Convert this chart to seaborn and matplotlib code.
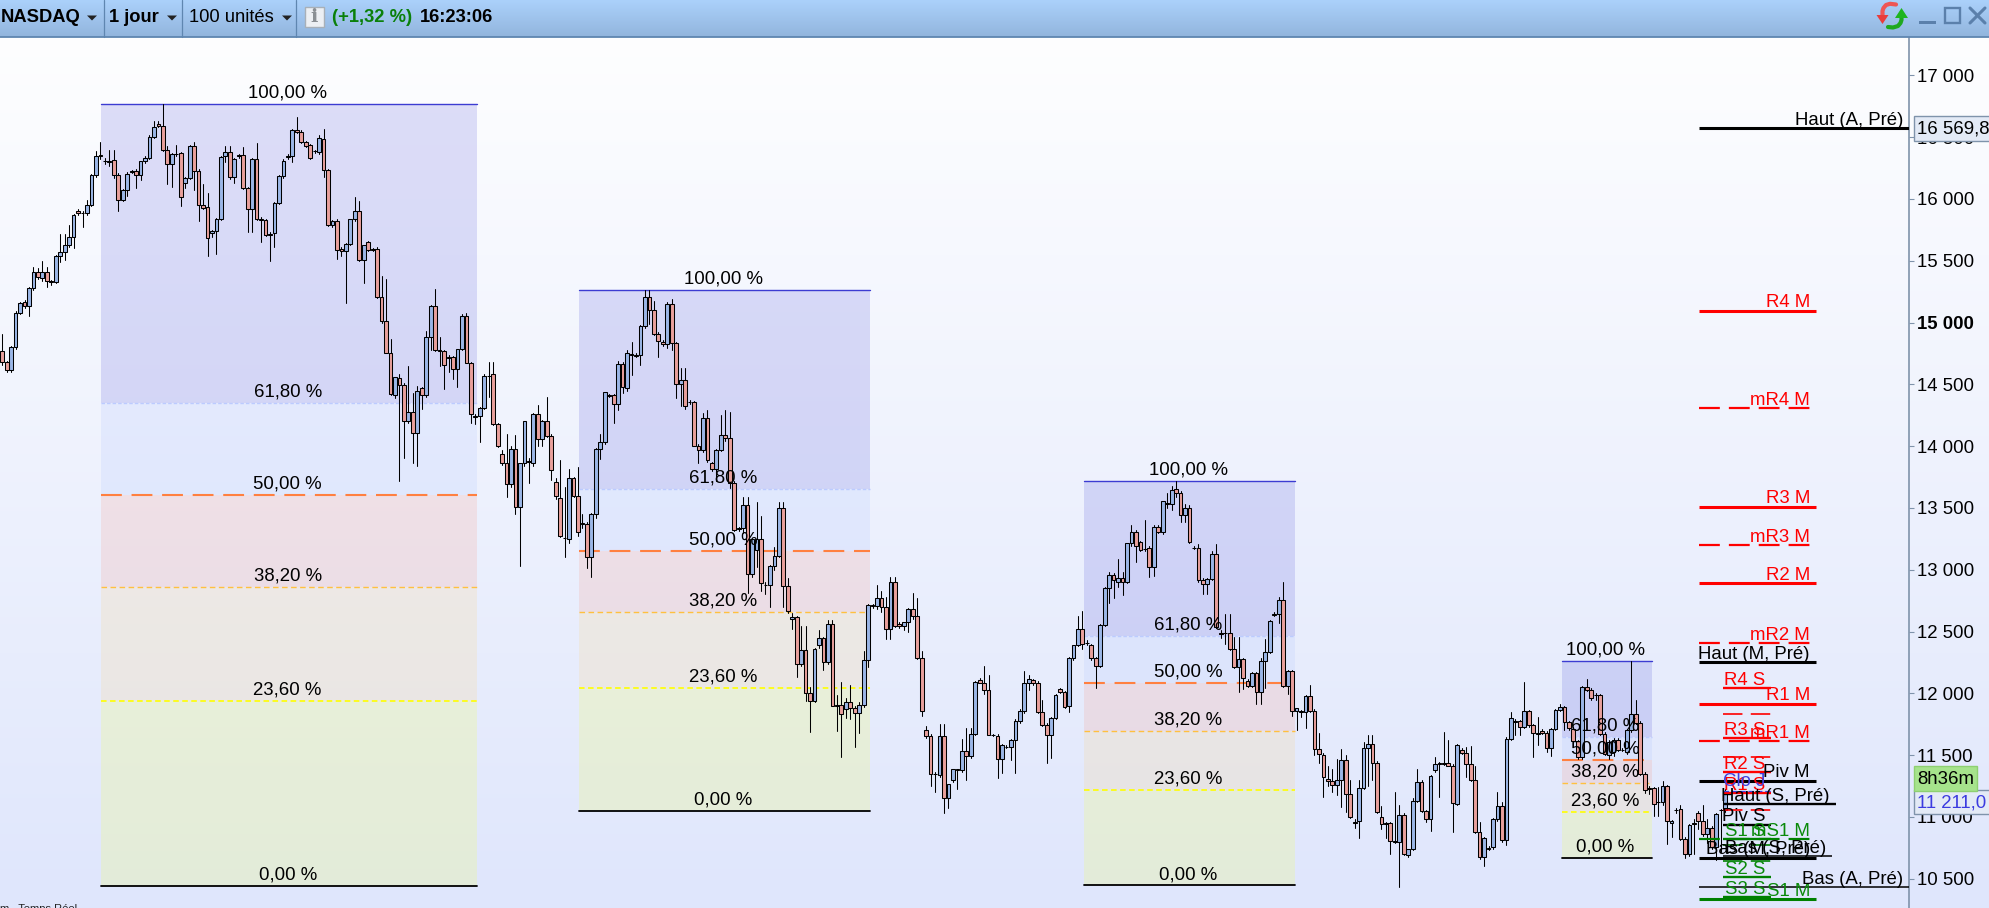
import numpy as np
import pandas as pd
import matplotlib
matplotlib.use("Agg")
import matplotlib.pyplot as plt
from matplotlib.patches import Rectangle, Polygon
import seaborn as sns

# ---------- chart values ----------
opens = [
14770,14680,14620,14800,15080,15165,15130,15280,15410,15360,
15410,15335,15330,15540,15570,15630,15690,15905,15890,15890,
15950,16190,16355,16310,16300,16315,16190,15990,16070,16225,
16225,16195,16305,16330,16505,16605,16590,16400,16285,16365,
16370,16130,16170,16430,16230,15950,15935,15725,15740,15840,
16345,16380,16175,16345,16355,16085,15920,16325,15840,15830,
15715,15725,15970,16185,16340,16345,16555,16545,16460,16435,
16390,16380,16485,16235,15790,15825,15595,15575,15635,15835,
15900,15510,15650,15595,15595,15205,15015,14755,14410,14555,
14495,14205,14280,14105,14470,14415,14880,15135,14780,14770,
14720,14720,14625,14785,15055,14675,14245,14245,14310,14570,
14580,14180,13940,13865,13690,13980,13510,13865,13875,13865,
14260,14060,14200,14085,13710,13580,13260,13250,13740,13595,
13375,13370,13105,13455,13975,14030,14410,14410,14340,14665,
14470,14745,14735,14735,14975,15205,15105,14910,14840,14830,
15150,14835,14505,14535,14360,14355,14005,13965,14230,13860,
13815,13970,14090,14070,13705,13335,13335,13525,12965,13160,
13245,12880,12875,13030,13110,13500,12870,12600,12615,12235,
12350,12000,11940,12395,12445,12250,12560,11905,11910,11870,
11930,11885,11845,11905,12270,12715,12705,12770,12695,12520,
12905,12565,12545,12575,12685,12630,12285,11705,11655,11350,
11340,11655,11150,11300,11380,11380,11530,11495,11670,12105,
12080,12030,11665,11655,11470,11570,11570,11620,11775,11860,
12080,12105,12080,11850,11745,11665,11800,12035,12010,11895,
12290,12390,12520,12410,12390,12285,12225,12555,12855,12955,
12905,12935,12900,13215,13305,13225,13170,13175,13020,13350,
13305,13540,13535,13650,13620,13445,13500,13180,13180,12920,
12885,12925,13130,12485,12490,12490,12360,12210,12275,12100,
12060,12165,12010,12265,12335,12640,12640,12755,12060,12180,
11860,11855,11850,11975,11860,11550,11505,11310,11290,11260,
11300,11460,11185,10960,10965,11235,11560,11590,11440,11000,
10950,10950,10805,10800,11015,10690,10740,11130,11285,11050,
10980,11380,11435,11435,11435,11415,11105,11545,11515,11430,
11300,10875,10675,10750,10755,10985,11090,10810,11635,11775,
11775,11730,11855,11745,11680,11695,11680,11560,11710,11865,
11890,11770,11715,11615,11485,12055,12030,11990,11985,11675,
11500,11525,11625,11545,11525,11705,11835,11760,11350,11235,
11235,11125,11120,11250,10955,11060,11065,10825,10700,10950,
11030,10970,10865,10910,10755,11055,11060]
closes = [
14680,14620,14800,15080,15160,15130,15280,15410,15370,15410,
15340,15325,15540,15570,15630,15690,15870,15890,15885,15950,
16190,16350,16345,16305,16310,16190,15990,16070,16200,16220,
16195,16305,16330,16505,16580,16590,16400,16285,16365,16360,
16015,16170,16430,16230,15950,15930,15685,15740,15840,16340,
16380,16175,16325,16355,16090,15920,16325,15840,15830,15710,
15705,15970,16185,16305,16345,16560,16540,16460,16430,16330,
16385,16490,16235,15790,15825,15585,15575,15635,15835,15900,
15510,15630,15590,15590,15210,15015,14755,14425,14560,14495,
14205,14280,14105,14450,14415,14880,15135,14780,14770,14660,
14710,14625,14785,15055,14675,14260,14240,14310,14565,14565,
14180,14005,13865,13690,13980,13510,13865,14200,13880,14260,
14060,14200,14085,13805,13595,13270,13255,13740,13595,13305,
13370,13105,13455,13975,14030,14435,14405,14340,14665,14480,
14750,14740,14730,14975,15205,15105,14910,14850,14830,15150,
14835,14505,14535,14325,14355,14005,13965,14230,13890,13815,
13970,14090,14070,13705,13320,13330,13525,12965,13245,13245,
12895,12875,13030,13110,13500,12870,12665,12615,12235,12350,
12000,11940,12360,12445,12250,12560,11900,11895,11835,11930,
11885,11845,11905,12270,12715,12710,12770,12695,12520,12905,
12545,12545,12575,12685,12630,12285,11860,11655,11345,11345,
11655,11150,11265,11385,11385,11530,11495,11670,12090,12080,
12030,11665,11660,11470,11580,11565,11620,11775,11860,12080,
12120,12080,11850,11745,11665,11800,11985,12010,11890,12285,
12390,12520,12400,12405,12285,12225,12555,12850,12955,12915,
12930,12900,13215,13305,13195,13160,13165,13020,13350,13305,
13555,13535,13645,13620,13445,13500,13225,13175,12920,12885,
12925,13130,12535,12480,12485,12360,12210,12275,12125,12060,
12165,12010,12265,12335,12585,12635,12755,12060,12180,11860,
11880,11850,11975,11860,11550,11510,11325,11290,11260,11300,
11460,11185,11000,10955,11235,11560,11590,11440,11040,10945,
10945,10805,10800,11015,10700,10740,11130,11285,11050,10980,
11335,11430,11430,11430,11415,11115,11585,11515,11430,11300,
10875,10675,10830,10745,10985,11090,10815,11635,11800,11770,
11730,11855,11745,11680,11675,11680,11560,11710,11865,11890,
11770,11720,11615,11485,12050,12030,11960,11985,11675,11510,
11605,11620,11540,11540,11705,11835,11760,11350,11215,11230,
11105,11120,11250,10965,10970,11055,10825,10700,10935,10945,
10970,10865,10910,10755,11025,11060,11200]
highs = [
14910,14690,14810,15090,15170,15180,15290,15450,15440,15500,
15450,15345,15550,15720,15720,15790,15880,15920,15900,15990,
16200,16390,16460,16330,16400,16400,16210,16080,16220,16235,
16240,16310,16350,16520,16630,16630,16770,16430,16370,16440,
16380,16180,16440,16460,16240,16120,16045,15750,15845,16350,
16430,16430,16330,16365,16420,16100,16330,16455,15850,15840,
15730,15975,16190,16320,16365,16565,16660,16560,16470,16445,
16400,16520,16565,16240,15830,15840,15610,15640,15840,16015,
15985,15630,15660,15605,15610,15380,15350,14870,14560,14580,
14510,14650,14430,14490,14480,14935,15145,15270,14880,14780,
14735,14730,14790,15070,15075,14680,14260,14315,14580,14680,
14680,14190,13970,14100,14000,14090,13865,14200,13905,14265,
14330,14210,14395,14095,13745,13885,13670,13815,13750,13830,
13450,13390,13460,13985,14100,14440,14420,14420,14690,14680,
14780,14840,14750,14980,15260,15260,15175,14920,14855,15170,
15190,14845,14630,14630,14370,14365,14015,14270,14290,13870,
13975,14250,14295,14275,13720,13350,13585,13585,13250,13545,
13435,12900,13035,13185,13550,13550,12930,12650,12630,12545,
12545,12050,12365,12510,12460,12590,12590,11990,12095,11960,
12070,11895,11930,12340,12720,12725,12875,12825,12780,12940,
12940,12580,12575,12690,12810,12775,12340,11740,11670,11360,
11750,11750,11270,11390,11390,11630,11720,11720,12100,12125,
12225,12145,11675,11670,11590,11580,11630,11790,11875,12185,
12145,12120,12100,11950,11760,11810,11995,12045,12020,12295,
12395,12625,12670,12430,12400,12295,12560,12860,12985,12970,
13090,12980,13220,13365,13320,13235,13400,13190,13360,13365,
13560,13620,13680,13715,13635,13530,13520,13195,13205,12930,
12930,13150,13205,12510,12645,12645,12455,12455,12285,12120,
12175,12175,12290,12440,12590,12660,12780,12905,12190,12190,
11885,11865,11985,12070,11870,11680,11515,11415,11390,11470,
11550,11500,11300,10985,11300,11605,11660,11660,11450,11085,
10960,10960,11205,11095,11030,10745,11150,11385,11300,11060,
11340,11485,11445,11690,11620,11430,11590,11560,11570,11575,
11415,10960,10835,10765,10990,11200,11120,11650,11850,11790,
11785,12090,11865,11755,11810,11710,11695,11720,11875,11915,
11900,11780,11730,11625,12060,12120,12040,12000,11995,11685,
11620,11640,11640,11560,11715,12260,11945,11775,11360,11250,
11245,11240,11290,11260,10975,11075,11095,10835,10945,10985,
11045,11095,10985,10925,11035,11065,11230]
lows = [
14660,14600,14600,14790,15070,15120,15050,15260,15350,15340,
15290,15300,15320,15490,15510,15610,15600,15870,15770,15870,
15940,16180,16320,16280,16270,16170,15900,15980,16020,16210,
16090,16150,16290,16320,16490,16580,16390,16120,16095,16350,
15940,16090,16160,16070,15825,15920,15535,15690,15555,15830,
16300,16160,16125,16330,16080,15730,15730,15830,15650,15700,
15495,15610,15960,16170,16320,16300,16530,16450,16420,16325,
16370,16360,16180,15785,15770,15515,15540,15155,15630,15820,
15500,15320,15580,15580,15200,15000,14750,14415,14390,13720,
13905,14190,13860,13840,14300,14400,14780,14770,14650,14465,
14600,14545,14475,14780,14670,14190,14180,14030,14300,14400,
14170,13990,13850,13590,13670,13450,13030,13840,13700,13840,
14000,14000,14075,13730,13575,13265,13100,13215,13590,13275,
13340,13015,12940,13420,13900,14020,14400,14185,14295,14430,
14450,14575,14720,14660,14960,14990,14900,14720,14810,14795,
14780,14390,14325,14300,14340,14000,13865,13950,13870,13800,
13720,13960,14040,13660,13310,13310,13300,12810,12940,13025,
12830,12800,12700,13000,13100,12700,12650,12520,12130,12220,
11940,11690,11930,12370,12190,12240,11895,11695,11485,11800,
11790,11570,11680,11890,12215,12690,12680,12660,12440,12440,
12540,12530,12510,12500,12600,12280,11820,11640,11250,11205,
11320,11035,11075,11280,11230,11365,11300,11480,11660,12080,
11995,11660,11655,11315,11355,11555,11460,11355,11760,11840,
12030,12070,11840,11740,11440,11475,11790,12000,11885,11850,
12270,12380,12360,12390,12270,12040,12215,12545,12730,12770,
12860,12795,12890,13190,13060,13150,13150,12940,12950,13295,
13290,13500,13480,13590,13385,13385,13215,13170,12900,12805,
12805,12915,12530,12450,12400,12350,12205,12010,12035,12050,
12050,11915,11915,12040,12330,12630,12570,12050,11995,11815,
11705,11810,11720,11850,11500,11440,11160,11250,11200,11180,
11080,11040,10990,10915,10830,11225,11250,11300,11030,10905,
10830,10700,10790,10430,10690,10680,10730,11120,11040,10960,
10890,11360,11160,11420,11410,10875,11100,11510,11320,11290,
10870,10660,10600,10735,10740,10970,10800,10770,11625,11660,
11660,11720,11730,11485,11580,11670,11525,11490,11700,11860,
11700,11700,11600,11470,11470,12020,11950,11950,11660,11500,
11470,11490,11530,11530,11510,11690,11750,11340,11195,11190,
11010,11010,11100,10785,10835,11035,10815,10670,10685,10700,
10900,10850,10790,10740,10650,10720,11040]
assert len(opens) == len(closes) == len(highs) == len(lows), (len(opens), len(closes), len(highs), len(lows))

y_ticks = [10500, 11000, 11500, 12000, 12500, 13000, 13500, 14000, 14500, 15000, 15500, 16000, 16500, 17000]

# Fibonacci boxes: first and last candle, then level prices 100 / 61.8 / 50 / 38.2 / 23.6 / 0
fib_labels = ["100,00 %", "61,80 %", "50,00 %", "38,20 %", "23,60 %", "0,00 %"]
fib_spans = [(22.1, 106.4), (129.2, 194.4), (242.4, 289.6), (349.4, 369.6)]
fib_levels = [
    [16770, 14351, 13607, 12862, 11940, 10443],
    [15267, 13653, 13152, 12660, 12044, 11050],
    [13720, 12466, 12086, 11697, 11220, 10446],
    [12264, 11651, 11463, 11277, 11042, 10670],
]

# Pivot levels: label, price, start, end, label end, colour, style
pivot_names = ["Haut (A, Pré)", "R4 M", "mR4 M", "R3 M", "mR3 M", "R2 M", "mR2 M", "Haut (M, Pré)", "R1 M",
               "mR1 M", "Piv M", "mS1 M", "Bas (M, Pré)", "S1 M", "Bas (A, Pré)",
               "R4 S", "", "R3 S", "", "R2 S", "R1 S", "", "Haut (S, Pré)", "Piv S", "S1 S", "", "Bas (S, Pré)", "", "S2 S", "S3 S"]
pivot_prices = [16570, 15097, 14305, 13511, 13197, 12889, 12406, 12255, 11918,
                11613, 11293, 10818, 10670, 10333, 10435,
                12042, 11830, 11637, 11484, 11362, 11192, 11058, 11103, 10937, 10818, 10777, 10685, 10640, 10513, 10351]
pivot_start = [380.2]*15 + [385.5]*15
pivot_end = [427.2, 406.3, 406.0, 406.3, 406.0, 406.3, 406.0, 406.3, 406.3, 406.0, 406.3, 406.0, 406.3, 406.3, 427.2,
             396.2, 396.2, 396.2, 396.2, 396.2, 396.2, 396.2, 410.8, 396.2, 396.2, 396.2, 409.9, 396.2, 396.2, 396.2]
pivot_text_end = [425.9, 405.0, 405.0, 405.0, 405.0, 405.0, 405.0, 405.0, 405.0, 405.0, 405.0, 405.0, 405.0, 405.0, 425.9,
                  395.0, 395.0, 395.0, 395.0, 395.0, 395.0, 395.0, 409.5, 395.0, 395.0, 395.0, 408.7, 395.0, 395.0, 395.0]
RED, GREEN, BLACK = "#ff0000", "#008000", "#000000"
pivot_colors = [BLACK, RED, RED, RED, RED, RED, RED, BLACK, RED, RED, BLACK, GREEN, BLACK, GREEN, BLACK,
                RED, RED, RED, RED, RED, RED, RED, BLACK, BLACK, GREEN, GREEN, BLACK, GREEN, GREEN, GREEN]
pivot_styles = ["s", "s", "d", "s", "d", "s", "d", "s", "s", "d", "s", "d", "s", "s", "t",
                "w", "x", "w", "x", "w", "w", "x", "w", "w", "w", "x", "t", "x", "w", "w"]

last_price = 11211
close_label = "Clo J"
toolbar_items = ["NASDAQ", "1 jour", "100 unités", "(+1,32 %)", "16:23:06"]
box_high = "16 569,8"
box_last = "11 211,0"
box_timer = "8h36m"
footer_text = "m . Temps Réel"

# ---------- style ----------
sns.set_theme(style="white")
plt.rcParams["font.family"] = ["Liberation Sans", "DejaVu Sans"]
plt.rcParams["lines.scale_dashes"] = False
W, H = 1989, 908
FS = 13.4

fig = plt.figure(figsize=(W / 100, H / 100), dpi=100)
fig.patch.set_facecolor("white")

# background gradient
bg = fig.add_axes([0, 0, 1, 1], zorder=-1)
bg.axis("off")
c0 = np.array(matplotlib.colors.to_rgb("#ffffff"))
c1 = np.array(matplotlib.colors.to_rgb("#dfe6fc"))
t = np.linspace(0, 1, 256)[:, None, None]
bg.imshow(c0[None, None, :] * (1 - t) + c1[None, None, :] * t, aspect="auto", extent=[0, 1, 0, 1])

# main price axes
TOP = 36.7
ax = fig.add_axes([0, 0, 1909 / W, (H - TOP) / H], zorder=2)
ax.patch.set_alpha(0)

idx = np.arange(len(opens))
o, c, h, l = map(np.array, (opens, closes, highs, lows))

# wicks
wicks = pd.DataFrame({"i": np.repeat(idx, 2), "price": np.column_stack([l, h]).ravel()})
sns.lineplot(data=wicks, x="i", y="price", units="i", estimator=None, color="black",
             linewidth=0.75, legend=False, ax=ax, zorder=3, sort=False)

# bodies
up = c >= o
for mask, col in ((up, "#9bb6e6"), (~up, "#e8a09c")):
    sns.barplot(x=idx[mask], y=np.abs(c - o)[mask], bottom=np.minimum(o, c)[mask], native_scale=True,
                color=col, saturation=1, errorbar=None, width=0.84, edgecolor="black",
                linewidth=0.75, ax=ax, zorder=4)

# fib boxes
fills = [("#3030d0", 0.15), ("#b0c4ff", 0.20), ("#ff7050", 0.13), ("#ffd070", 0.17), ("#f0ff60", 0.22)]
lines = [("#3c3cd2", 1.0, "-"), ("#bccbff", 1.0, (0, (2.5, 1.5))), ("#ff8040", 1.5, (0, (15, 7))),
         ("#ffc040", 1.0, (0, (4, 2.5))), ("#ffff00", 1.2, (0, (4, 2.5))), ("#000000", 1.3, "-")]
for (x0, x1), lv in zip(fib_spans, fib_levels):
    for k, (fc, a) in enumerate(fills):
        ax.fill_between([x0, x1], lv[k + 1], lv[k], color=fc, alpha=a, linewidth=0, zorder=1)
    for k, price in enumerate(lv):
        col, lw, ls = lines[k]
        ax.plot([x0, x1], [price, price], color=col, lw=lw, ls=ls, zorder=2, dash_capstyle="butt")
        ax.annotate(fib_labels[k], xy=((x0 + x1) / 2 - 0.3, price), xytext=(0, 4.4), textcoords="offset points",
                    ha="center", va="baseline", fontsize=FS, color="black", zorder=7)

# pivots
styles = {"s": (2.2, "-"), "d": (1.6, (0, (15, 6.5))), "t": (1.1, "-"), "w": (1.7, "-"), "x": (1.2, (0, (14, 6)))}
for name, price, x0, x1, xt, col, st in zip(pivot_names, pivot_prices, pivot_start, pivot_end,
                                            pivot_text_end, pivot_colors, pivot_styles):
    lw, ls = styles[st]
    ax.plot([x0, x1], [price, price], color=col, lw=lw, ls=ls, zorder=6, dash_capstyle="butt", solid_capstyle="butt")
    if name:
        ax.annotate(name, xy=(xt, price), xytext=(0, 2.4), textcoords="offset points", ha="right", va="baseline",
                    fontsize=FS, color=col if col != GREEN else "#0a8a0a", zorder=7)

ax.plot([385.5, 396.2], [last_price, last_price], color="#4040e0", lw=0.9, ls=(0, (4, 2)), zorder=6)
ax.annotate(close_label, xy=(395.0, last_price), xytext=(0, 3.6), textcoords="offset points", ha="right",
            va="baseline", fontsize=FS, color="#4040e0", zorder=8)

# axes
ax.set_xlim(-0.49, 427.2)
ax.set_ylim(10500 + (878.8 - H) * 8.09, 10500 + (878.8 - TOP) * 8.09)
ax.set_xlabel("")
ax.set_ylabel("")
ax.set_xticks([])
ax.yaxis.tick_right()
ax.set_yticks(y_ticks)
ax.set_yticklabels([f"{v // 1000} {v % 1000:03d}" for v in y_ticks], fontsize=FS)
for lab, v in zip(ax.get_yticklabels(), y_ticks):
    lab.set_color("black")
    if v == 15000:
        lab.set_fontweight("bold")
ax.tick_params(axis="y", right=True, length=3.6, width=0.8, color="#7f93ab", pad=2.2)
for side in ("top", "left", "bottom"):
    ax.spines[side].set_visible(False)
ax.spines["right"].set_color("#7f93ab")
ax.spines["right"].set_linewidth(1.2)
ax.grid(False)

# chrome drawn in pixel coordinates
ov = fig.add_axes([0, 0, 1, 1], zorder=5)
ov.axis("off")
ov.patch.set_alpha(0)

c0 = np.array(matplotlib.colors.to_rgb("#abd1fb"))
c1 = np.array(matplotlib.colors.to_rgb("#92b5dd"))
t = np.linspace(0, 1, 64)[:, None, None]
ov.imshow(c0[None, None, :] * (1 - t) + c1[None, None, :] * t, aspect="auto", extent=[0, W, TOP, 0], zorder=1)
ov.set_xlim(0, W)
ov.set_ylim(H, 0)
ov.plot([0, W], [TOP, TOP], color="#5f86b0", lw=1.3, zorder=2)
for xs in (103.6, 182.5, 296.4):
    ov.plot([xs, xs], [0, TOP], color="#5f86b0", lw=0.9, zorder=2)

tb = dict(va="center", fontsize=13.2, zorder=3)
ov.text(1, 18, toolbar_items[0], fontweight="bold", color="black", **tb)
ov.text(109, 17, toolbar_items[1], fontweight="bold", color="black", **tb)
ov.text(189, 18, toolbar_items[2], color="black", **tb)
ov.text(332, 18, toolbar_items[3], fontweight="bold", color="#0a800a", **tb)
ov.text(420, 18, toolbar_items[4], fontweight="bold", color="black", **tb)
for tx in (92, 172, 287):
    ov.add_patch(Polygon([(tx - 5, 15.5), (tx + 5, 15.5), (tx, 20.5)], closed=True, facecolor="#222222",
                         edgecolor="none", zorder=3))

ov.add_patch(Rectangle((305, 7), 19, 20, facecolor="#eceff3", edgecolor="#a8b0b8", lw=1, zorder=3))
ov.text(314.5, 17.5, "i", ha="center", va="center", fontsize=14, fontweight="bold", color="#8a8f94",
        family="DejaVu Serif", zorder=4)

# refresh icon
ov.plot([1896, 1890, 1886, 1883.5, 1882.5, 1882.5], [4.5, 3.8, 5, 8, 11, 16], color="#ee5555", lw=3, zorder=3,
        solid_capstyle="round")
ov.add_patch(Polygon([(1876.5, 15), (1888.5, 15), (1882.5, 24)], closed=True, facecolor="#e83c3c", edgecolor="none", zorder=3))
ov.plot([1888, 1893, 1898, 1900.5, 1901.5, 1901.5], [27, 27.5, 26, 23, 20, 16], color="#1fa81f", lw=3, zorder=4,
        solid_capstyle="round")
ov.add_patch(Polygon([(1895, 18), (1908, 18), (1901.5, 8)], closed=True, facecolor="#1fb51f", edgecolor="none", zorder=4))

win = "#5b80ab"
ov.add_patch(Rectangle((1919, 20.5), 17, 3, facecolor=win, edgecolor="none", zorder=3))
ov.add_patch(Rectangle((1945, 8), 15, 15, facecolor="none", edgecolor=win, lw=1.7, zorder=3))
ov.plot([1970, 1985], [8, 23], color=win, lw=2.2, zorder=3)
ov.plot([1970, 1985], [23, 8], color=win, lw=2.2, zorder=3)

# value boxes at the right of the axis
ov.add_patch(Rectangle((1914, 116), 80, 24.5, facecolor="#e3eaf6", edgecolor="#7f93ab", lw=1, zorder=2))
ov.text(1917, 129, box_high, va="center", fontsize=FS, color="black", zorder=3)
ov.add_patch(Rectangle((1914, 790), 80, 24, facecolor="#e3eaf6", edgecolor="#7f93ab", lw=1, zorder=2))
ov.text(1917, 803, box_last, va="center", fontsize=FS, color="#3c3ce0", zorder=3)
ov.add_patch(Rectangle((1914, 766), 63, 25, facecolor="#a6e38c", edgecolor="#8ed071", lw=1, zorder=4))
ov.text(1917, 779, box_timer, va="center", fontsize=FS, color="black", zorder=5)

ov.text(0, 912, footer_text, va="baseline", fontsize=8, color="#222222", zorder=3)

fig.savefig("out.png", dpi=100)
